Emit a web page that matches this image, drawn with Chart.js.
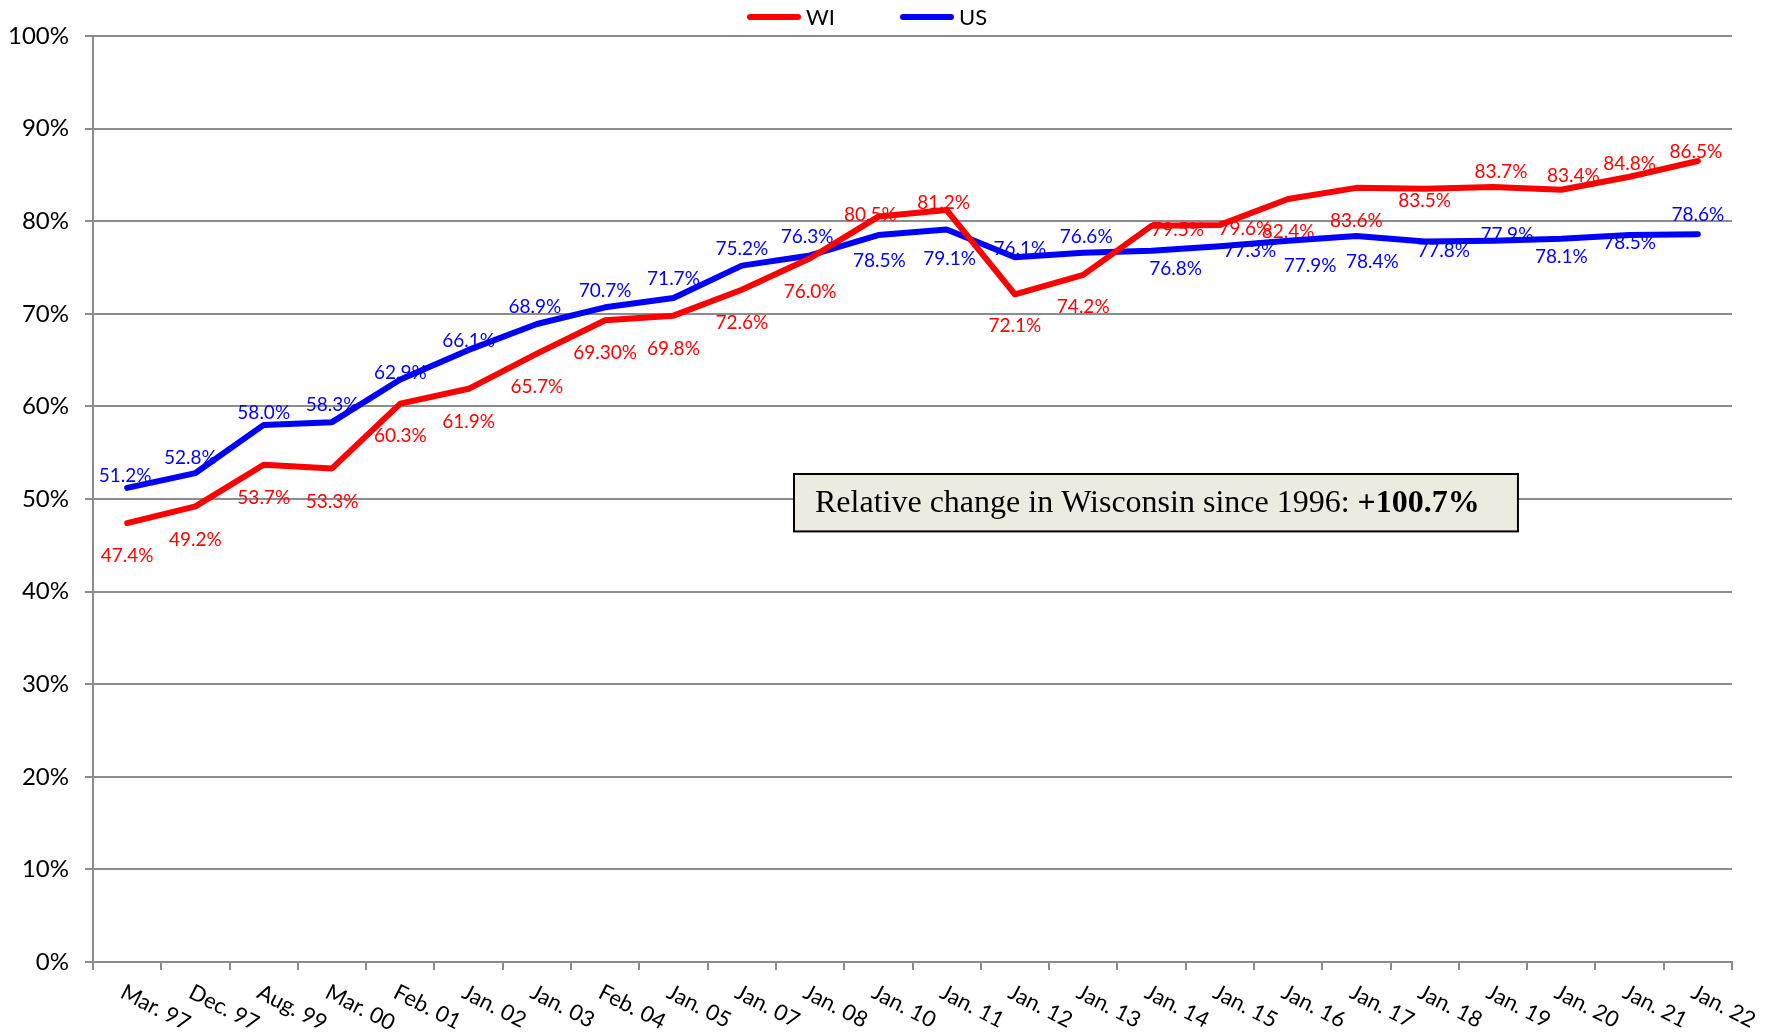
<!DOCTYPE html>
<html>
<head>
<meta charset="utf-8">
<script src="https://cdn.jsdelivr.net/npm/chart.js@4.4.1/dist/chart.umd.min.js"></script>
<style>
  html, body { margin: 0; padding: 0; background: #fff; }
</style>
</head>
<body>
<canvas id="myChart" width="1775" height="1033"></canvas>
<script>
const labels = ['Mar. 97', 'Dec. 97', 'Aug. 99', 'Mar. 00', 'Feb. 01', 'Jan. 02', 'Jan. 03', 'Feb. 04',
  'Jan. 05', 'Jan. 07', 'Jan. 08', 'Jan. 10', 'Jan. 11', 'Jan. 12', 'Jan. 13', 'Jan. 14', 'Jan. 15',
  'Jan. 16', 'Jan. 17', 'Jan. 18', 'Jan. 19', 'Jan. 20', 'Jan. 21', 'Jan. 22'];
const wiValues = [47.4, 49.2, 53.7, 53.3, 60.3, 61.9, 65.7, 69.3, 69.8, 72.6, 76.0, 80.5, 81.2, 72.1,
  74.2, 79.5, 79.6, 82.4, 83.6, 83.5, 83.7, 83.4, 84.8, 86.5];
const usValues = [51.2, 52.8, 58.0, 58.3, 62.9, 66.1, 68.9, 70.7, 71.7, 75.2, 76.3, 78.5, 79.1, 76.1,
  76.6, 76.8, 77.3, 77.9, 78.4, 77.8, 77.9, 78.1, 78.5, 78.6];
const yMin = 0, yMax = 100, yStep = 10;
const noteText = 'Relative change in Wisconsin since 1996: ';
const noteValue = '+100.7%';

// the source writes one WI label with two decimals
const wiLabelText = { 7: '69.30%' };

// where each value label sits relative to its point (dx, dy), as placed in the original
const wiNudge = [[0, 33], [0, 33], [0, 33], [0, 33], [0, 32], [0, 33], [0, 33], [0, 33], [0, 33], [0, 33],
  [0, 34], [-8, -2], [-3, -7], [0, 32], [0, 32], [26, 4], [25, 4], [0, 33], [0, 33], [0, 12],
  [8, -15], [12, -14], [0, -13], [-2, -9]];
const usNudge = [[-2, -12], [-5, -15], [0, -12], [0, -17], [0, -7], [0, -9], [-2, -17], [0, -16],
  [0, -19], [0, -17], [-3, -19], [1, 26], [3, 29], [5, -8], [3, -16], [24, 18], [30, 5], [22, 25],
  [16, 26], [19, 9], [14, -6], [0, 18], [0, 8], [0, -19]];

const gridGray = '#8c8c8c';
Chart.defaults.font.family = 'Lato';

const valueLabels = {
  id: 'valueLabels',
  beforeDatasetsDraw(chart) {
    const ctx = chart.ctx;
    const nudges = [wiNudge, usNudge];
    const overrides = [wiLabelText, {}];
    ctx.save();
    ctx.font = '19px Lato';
    ctx.textAlign = 'center';
    ctx.textBaseline = 'middle';
    chart.data.datasets.forEach((ds, i) => {
      chart.getDatasetMeta(i).data.forEach((pt, j) => {
        const txt = overrides[i][j] || ds.data[j].toFixed(1) + '%';
        ctx.fillStyle = ds.borderColor;
        ctx.fillText(txt, pt.x + nudges[i][j][0], pt.y + nudges[i][j][1]);
      });
    });
    ctx.restore();
  }
};

const extras = {
  id: 'extras',
  afterDraw(chart) {
    const ctx = chart.ctx;
    const area = chart.chartArea;
    const x = chart.scales.x, y = chart.scales.y;

    // slanted category labels (rotated clockwise, starting at the tick)
    ctx.save();
    ctx.font = '22px Lato';
    ctx.fillStyle = '#000';
    ctx.textAlign = 'left';
    ctx.textBaseline = 'top';
    labels.forEach((lab, i) => {
      ctx.save();
      ctx.translate(x.getPixelForTick(i), x.top + 19);
      ctx.rotate(27 * Math.PI / 180);
      ctx.fillText(lab, 0, 0);
      ctx.restore();
    });
    ctx.restore();

    // legend
    ctx.save();
    ctx.font = '22px Lato';
    ctx.textBaseline = 'middle';
    ctx.lineCap = 'round';
    ctx.lineWidth = 6;
    let lx = 750;
    chart.data.datasets.forEach(ds => {
      ctx.strokeStyle = ds.borderColor;
      ctx.beginPath();
      ctx.moveTo(lx, 17);
      ctx.lineTo(lx + 48, 17);
      ctx.stroke();
      ctx.fillStyle = '#000';
      ctx.fillText(ds.label, lx + 56, 18);
      lx += 153;
    });
    ctx.restore();

    // note box
    const bx0 = area.left + area.width * 0.4277;
    const bx1 = area.left + area.width * 0.8694;
    const by0 = y.getPixelForValue(52.7);
    const by1 = y.getPixelForValue(46.5);
    ctx.save();
    ctx.fillStyle = '#edebe0';
    ctx.fillRect(bx0, by0, bx1 - bx0, by1 - by0);
    ctx.strokeStyle = '#000';
    ctx.lineWidth = 2;
    ctx.strokeRect(bx0, by0, bx1 - bx0, by1 - by0);
    ctx.fillStyle = '#000';
    ctx.textBaseline = 'middle';
    ctx.font = '32px "Liberation Serif"';
    const ty = (by0 + by1) / 2 + 1;
    ctx.fillText(noteText, bx0 + 21, ty);
    const w = ctx.measureText(noteText).width;
    ctx.font = 'bold 32px "Liberation Serif"';
    ctx.fillText(noteValue, bx0 + 21 + w, ty);
    ctx.restore();
  }
};

new Chart(document.getElementById('myChart'), {
  type: 'line',
  data: {
    labels: labels,
    datasets: [{
      label: 'WI',
      data: wiValues,
      borderColor: '#ff0000',
      backgroundColor: '#ff0000',
      borderWidth: 6,
      pointRadius: 0,
      tension: 0,
      borderCapStyle: 'round',
      borderJoinStyle: 'round'
    }, {
      label: 'US',
      data: usValues,
      borderColor: '#0000ff',
      backgroundColor: '#0000ff',
      borderWidth: 6,
      pointRadius: 0,
      tension: 0,
      borderCapStyle: 'round',
      borderJoinStyle: 'round'
    }]
  },
  options: {
    responsive: false,
    animation: false,
    layout: { padding: { top: 36, right: 43, left: 0, bottom: 0 } },
    plugins: {
      legend: { display: false },
      tooltip: { enabled: false }
    },
    scales: {
      x: {
        offset: true,
        grid: { offset: true, drawOnChartArea: false, drawTicks: true, tickLength: 8, color: gridGray, lineWidth: 2 },
        border: { display: true, color: gridGray, width: 2 },
        ticks: { display: false },
        afterFit: s => { s.height = 71; }
      },
      y: {
        min: yMin,
        max: yMax,
        grid: { color: gridGray, lineWidth: 2, tickLength: 8 },
        border: { display: true, color: gridGray, width: 2 },
        ticks: {
          stepSize: yStep,
          padding: 16,
          color: '#000',
          font: { size: 24 },
          callback: v => v + '%'
        },
        afterFit: s => { s.width = 93; }
      }
    }
  },
  plugins: [valueLabels, extras]
});
</script>
</body>
</html>
